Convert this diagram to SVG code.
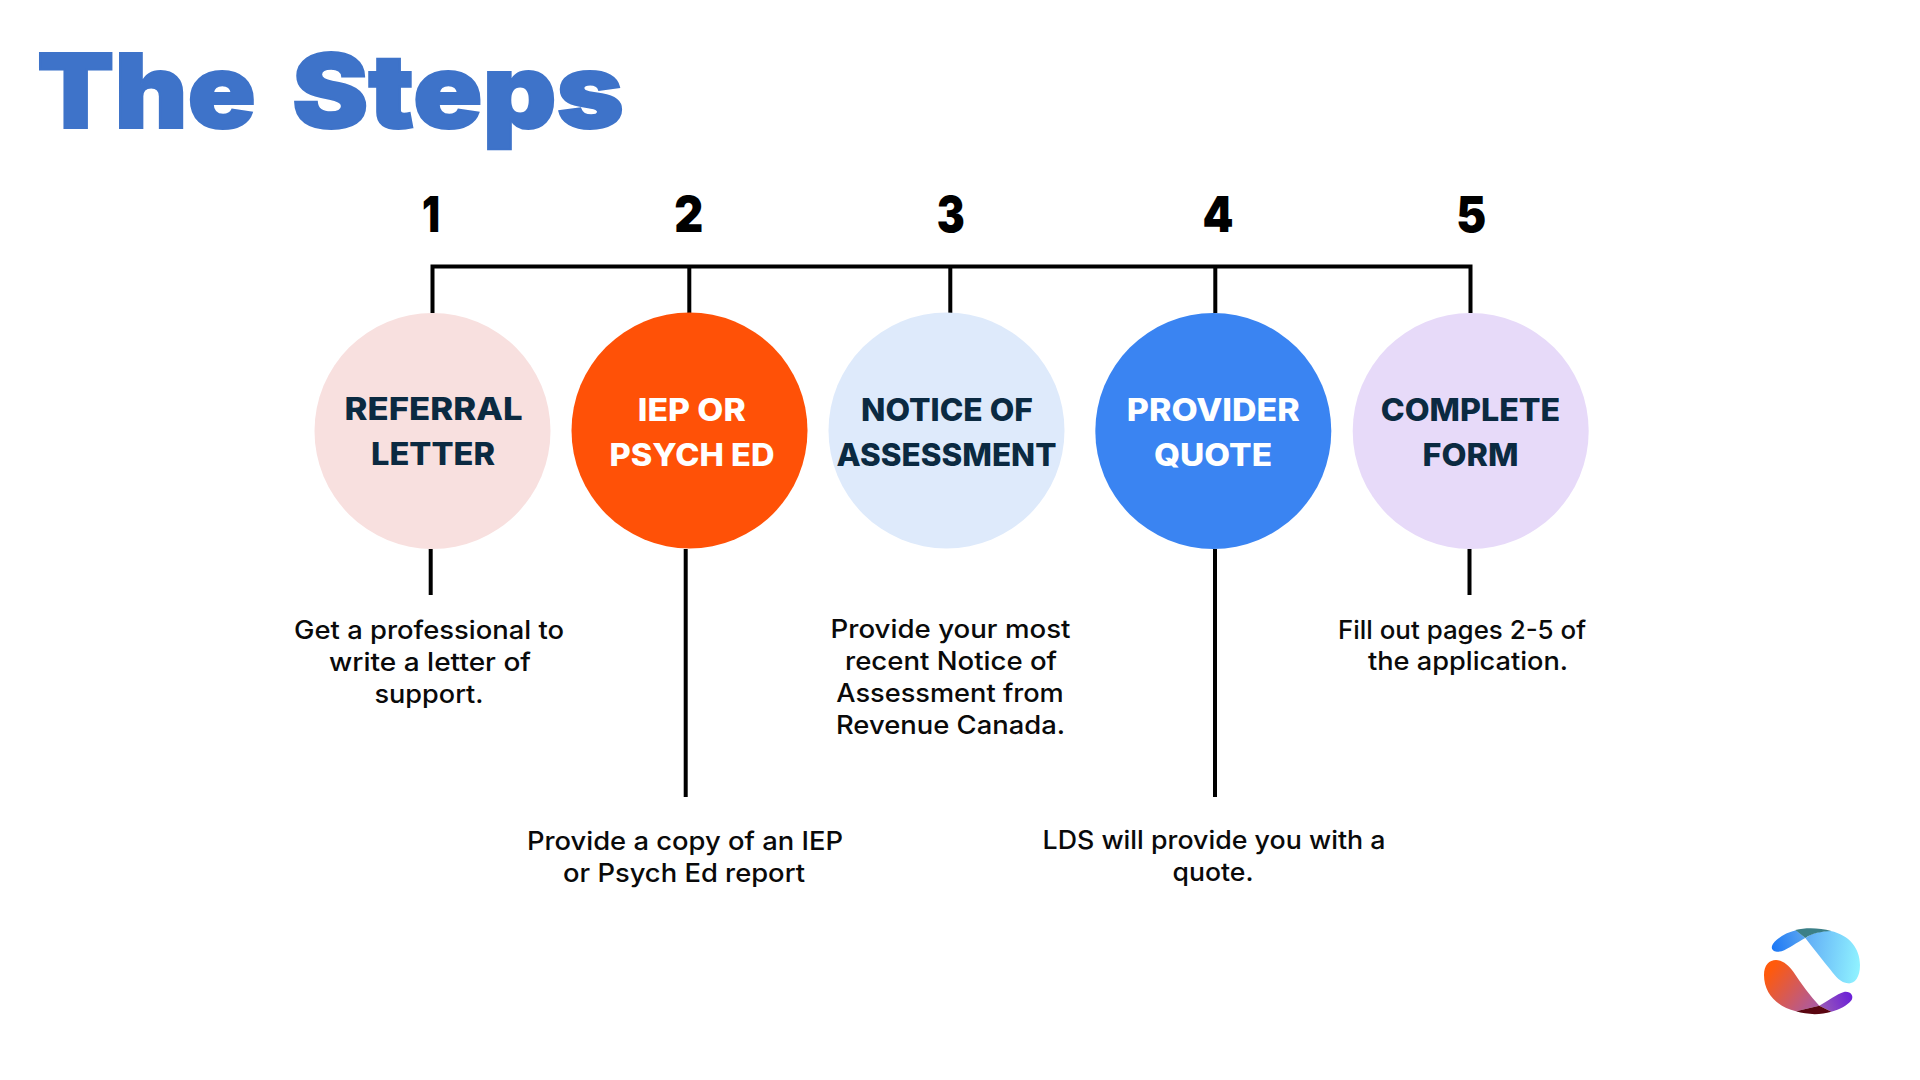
<svg xmlns="http://www.w3.org/2000/svg" width="1920" height="1080" viewBox="0 0 1920 1080">
<style>
text{font-family:"Inter","Noto Sans",sans-serif;text-anchor:middle}
.title{font-size:103px;font-weight:900;fill:#3e73c9;stroke:#3e73c9;stroke-width:2px;text-anchor:start}
.num{font-size:50px;font-weight:900;fill:#000}
.lab{font-size:31px;font-weight:800;fill:#0b2a41}
.w{fill:#fff}
.body{font-size:25.5px;font-weight:500;fill:#0a0a0a}
.ln{fill:none;stroke:#000;stroke-width:4}
</style>
<defs>
<linearGradient id="gBlue" x1="95" y1="110" x2="195" y2="80" gradientUnits="userSpaceOnUse"><stop offset="0" stop-color="#1c78f6"/><stop offset="1" stop-color="#5aa5f0"/></linearGradient>
<linearGradient id="gCyan" x1="195" y1="130" x2="358" y2="150" gradientUnits="userSpaceOnUse"><stop offset="0" stop-color="#62aef6"/><stop offset="1" stop-color="#8ff1ff"/></linearGradient>
<linearGradient id="gOrange" x1="90" y1="180" x2="235" y2="295" gradientUnits="userSpaceOnUse"><stop offset="0" stop-color="#ff5a0c"/><stop offset="1" stop-color="#a85aa8"/></linearGradient>
<linearGradient id="gPurple" x1="240" y1="290" x2="335" y2="255" gradientUnits="userSpaceOnUse"><stop offset="0" stop-color="#9a5ab8"/><stop offset="1" stop-color="#6a1fd8"/></linearGradient>
</defs>
<rect width="1920" height="1080" fill="#fff"/>
<text id="title" class="title" y="128"><tspan x="37" textLength="219" lengthAdjust="spacingAndGlyphs">The</tspan> <tspan x="292" textLength="332" lengthAdjust="spacingAndGlyphs">Steps</tspan></text>
<g id="connectors">
<path class="ln" d="M432.5 313V266.5H1470.5V313M689.3 266.5V313M950.3 266.5V313M1215.3 266.5V313"/>
<path class="ln" d="M430.7 549V595M685.7 549V797M1215 549V797M1469.5 549V595"/>
</g>
<g id="step1">
<text class="num" x="431" y="232" textLength="18" lengthAdjust="spacingAndGlyphs">1</text>
<circle cx="432.5" cy="431" r="118" fill="#f8e0df"/>
<text class="lab" x="433.6" y="420" textLength="178" lengthAdjust="spacingAndGlyphs">REFERRAL</text>
<text class="lab" x="433" y="465" textLength="124" lengthAdjust="spacingAndGlyphs">LETTER</text>
<text class="body" x="429" y="639" textLength="270" lengthAdjust="spacingAndGlyphs">Get a professional to</text>
<text class="body" x="430" y="671" textLength="202" lengthAdjust="spacingAndGlyphs">write a letter of</text>
<text class="body" x="429" y="703" textLength="109" lengthAdjust="spacingAndGlyphs">support.</text>
</g>
<g id="step2">
<text class="num" x="688.7" y="232" textLength="29" lengthAdjust="spacingAndGlyphs">2</text>
<circle cx="689.5" cy="430.5" r="118" fill="#ff5107"/>
<text class="lab w" x="691.8" y="421" textLength="108" lengthAdjust="spacingAndGlyphs">IEP OR</text>
<text class="lab w" x="692" y="465.7" textLength="165" lengthAdjust="spacingAndGlyphs">PSYCH ED</text>
<text class="body" x="685" y="850" textLength="316" lengthAdjust="spacingAndGlyphs">Provide a copy of an IEP</text>
<text class="body" x="684" y="882" textLength="242" lengthAdjust="spacingAndGlyphs">or Psych Ed report</text>
</g>
<g id="step3">
<text class="num" x="950.7" y="232" textLength="28" lengthAdjust="spacingAndGlyphs">3</text>
<circle cx="946.5" cy="430.5" r="118" fill="#deeafb"/>
<text class="lab" x="947" y="420.7" textLength="172" lengthAdjust="spacingAndGlyphs">NOTICE OF</text>
<text class="lab" x="946.5" y="466" textLength="220" lengthAdjust="spacingAndGlyphs">ASSESSMENT</text>
<text class="body" x="950.5" y="638" textLength="240" lengthAdjust="spacingAndGlyphs">Provide your most</text>
<text class="body" x="951" y="670" textLength="212" lengthAdjust="spacingAndGlyphs">recent Notice of</text>
<text class="body" x="950" y="702" textLength="227.5" lengthAdjust="spacingAndGlyphs">Assessment from</text>
<text class="body" x="950.5" y="734" textLength="229" lengthAdjust="spacingAndGlyphs">Revenue Canada.</text>
</g>
<g id="step4">
<text class="num" x="1218" y="232" textLength="31" lengthAdjust="spacingAndGlyphs">4</text>
<circle cx="1213.3" cy="431" r="118" fill="#3a84f2"/>
<text class="lab w" x="1213.3" y="421" textLength="173" lengthAdjust="spacingAndGlyphs">PROVIDER</text>
<text class="lab w" x="1213" y="466" textLength="118" lengthAdjust="spacingAndGlyphs">QUOTE</text>
<text class="body" x="1214" y="849" textLength="343" lengthAdjust="spacingAndGlyphs">LDS will provide you with a</text>
<text class="body" x="1213" y="880.5" textLength="81" lengthAdjust="spacingAndGlyphs">quote.</text>
</g>
<g id="step5">
<text class="num" x="1471.3" y="232" textLength="30" lengthAdjust="spacingAndGlyphs">5</text>
<circle cx="1470.7" cy="431" r="118" fill="#e7daf9"/>
<text class="lab" x="1470.5" y="421" textLength="179.5" lengthAdjust="spacingAndGlyphs">COMPLETE</text>
<text class="lab" x="1470.5" y="465.7" textLength="96" lengthAdjust="spacingAndGlyphs">FORM</text>
<text class="body" x="1462" y="639" textLength="248" lengthAdjust="spacingAndGlyphs">Fill out pages 2-5 of</text>
<text class="body" x="1468" y="670" textLength="200" lengthAdjust="spacingAndGlyphs">the application.</text>
</g>
<g id="logo" transform="translate(1740 910) scale(.3333)">
<path fill="url(#gBlue)" d="M96 108C100 92 135 68 168 61L196 84C170 98 145 116 125 124C108 128 92 122 96 108Z"/>
<path fill="url(#gCyan)" d="M196 84C215 70 245 62 272 63C328 75 360 115 360 165C360 205 342 222 324 220C302 218 287 200 272 180C247 150 220 115 196 84Z"/>
<path fill="#3b7f87" d="M166 60C200 52 240 54 274 63C245 64 215 70 196 84Z"/>
<path fill="url(#gOrange)" d="M72 195C72 165 88 150 108 150C130 152 145 165 160 185C185 222 210 258 238 287L168 304C110 290 72 250 72 195Z"/>
<path fill="url(#gPurple)" d="M238 287C265 272 290 252 312 246C332 243 342 258 335 270C320 288 300 298 274 305Z"/>
<path fill="#5a0510" d="M168 304L238 287L274 305C240 316 200 314 168 304Z"/>
</g>
</svg>
